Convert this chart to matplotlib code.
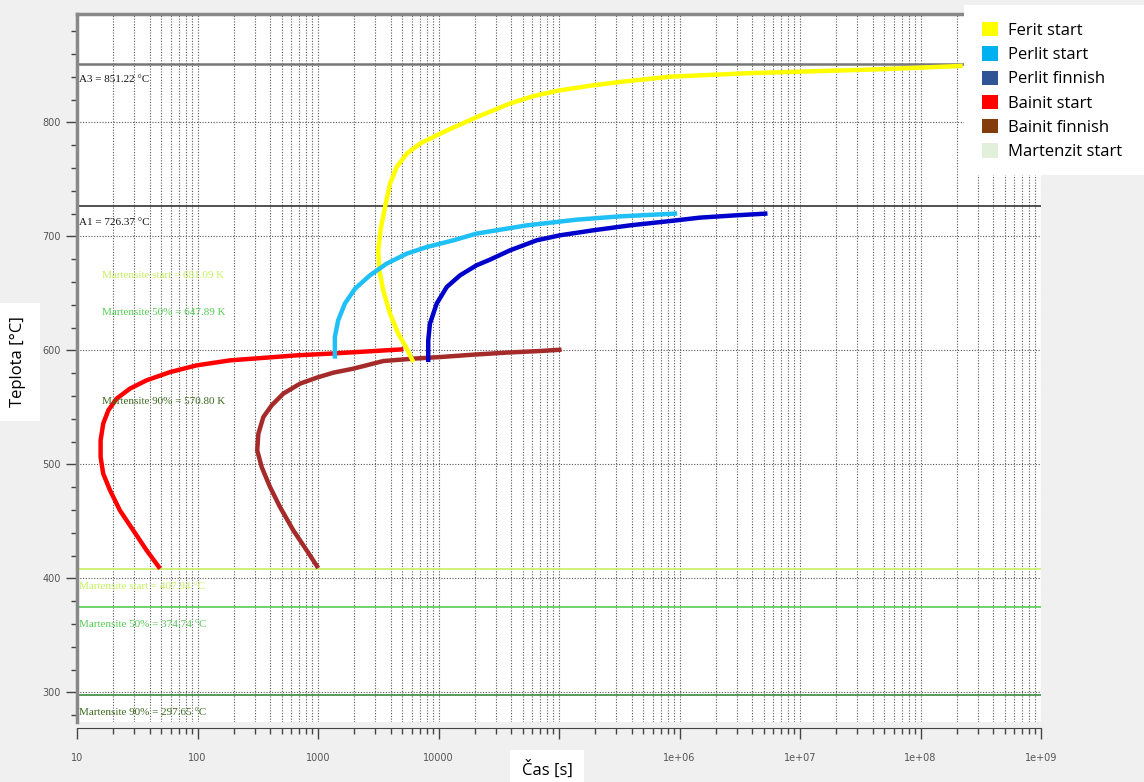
import matplotlib.pyplot as plt
from matplotlib.patches import Patch, Rectangle
from matplotlib.ticker import LogLocator, FixedLocator, MultipleLocator, NullFormatter

# TTT diagram curves: time [s], temperature [°C]
ferit_start_t = [6180, 5370, 4630, 3960, 3480, 3230, 3160, 3310, 3600, 3960, 4500,
                 5450, 7020, 9660, 12400, 15100, 20700, 28500, 39200, 61200, 102000,
                 193000, 321000, 832000, 3.55e6, 4.57e7, 2.24e8]
ferit_start_T = [589.7, 602.9, 614.6, 632.2, 652.6, 670.2, 687.7, 706.0, 725.7, 746.2, 760.8,
                 772.5, 781.3, 788.6, 794.0, 798.0, 804.5, 810.5, 816.5, 823.0, 828.1,
                 832.5, 835.4, 840, 843, 846.5, 849.5]

perlit_start_t = [1380, 1380, 1470, 1670, 2030, 2700, 3720, 5450, 7980, 13300,
                  20700, 54000, 140000, 321000, 955000]
perlit_start_T = [592.7, 611.7, 626.3, 641.0, 654.1, 665.8, 676.1, 684.8, 690.6, 696.5,
                  702.4, 709.6, 714.6, 717.5, 720]

perlit_finish_t = [8220, 8220, 8490, 9660, 11700, 15100, 20700, 26700, 39200, 65300,
                   102000, 193000, 388000, 834000, 1.48e6, 2.82e6, 5.37e6]
perlit_finish_T = [589.7, 608.8, 623.4, 641.0, 655.5, 665.8, 674.6, 679.5, 687.7, 696.5,
                   700.9, 705.3, 709.6, 713.4, 716.4, 718.3, 720]

bainit_start_t = [48.9, 37.8, 29.3, 22.7, 18.8, 16.5, 15.7, 15.7, 16.5, 18.2, 21.3,
                  27.5, 37.8, 59.2, 98.4, 186, 375, 665, 1260, 5110]
bainit_start_T = [408.5, 424.6, 442.1, 459.6, 477.2, 491.8, 506.4, 521.1, 535.7, 547.4, 557.6,
                  566.4, 573.7, 580.9, 586.8, 591.2, 593.6, 595.6, 597.1, 600.9]

bainit_finish_t = [1005, 805, 624, 484, 400, 341, 313, 320, 352, 413, 515, 710, 975,
                   1340, 1960, 3480, 6180, 10300, 19500, 36800, 69500, 105000]
bainit_finish_T = [409.0, 424.6, 442.1, 462.5, 480.1, 497.6, 512.3, 526.9, 541.5, 551.8,
                   562.0, 570.8, 576.0, 580.4, 583.9, 590.6, 592.7, 594.1, 596.2, 598.0,
                   599.4, 600.6]

# critical temperatures
A3 = 851.22
A1 = 726.37
Ms = 407.94
M50 = 374.74
M90 = 297.65
Ms_K = 681.09
M50_K = 647.89
M90_K = 570.80

legend_labels = ["Ferit start", "Perlit start", "Perlit finnish",
                 "Bainit start", "Bainit finnish", "Martenzit start"]
legend_colors = ["#ffff00", "#00b0f0", "#2f5597", "#ff0000", "#843c0c", "#e2efda"]

fig = plt.figure(figsize=(11.44, 7.82), dpi=100, facecolor="#f0f0f0")
ax = fig.add_axes([77 / 1144, 1 - 722 / 782, 964 / 1144, 708 / 782])
ax.set_facecolor("white")
ax.set_xscale("log")
ax.set_xlim(10, 1e9)
ax.set_ylim(274, 895)

# grid
ax.xaxis.set_minor_locator(LogLocator(base=10, subs=range(2, 10), numticks=200))
ax.xaxis.set_minor_formatter(NullFormatter())
ax.set_xticks([10 ** k for k in range(1, 10)])
ax.set_xticklabels(["10", "100", "1000", "10000", "100000",
                    "1e+06", "1e+07", "1e+08", "1e+09"])
ax.yaxis.set_major_locator(FixedLocator([300, 400, 500, 600, 700, 800]))
ax.yaxis.set_minor_locator(MultipleLocator(20))
ax.grid(which="both", axis="x", color="#555555", linestyle=(0, (1, 1.5)), linewidth=0.8)
ax.grid(which="major", axis="y", color="#555555", linestyle=(0, (1, 1.5)), linewidth=0.8)
ax.set_axisbelow(True)

ax.tick_params(axis="both", which="major", direction="out", length=8, width=1,
               color="#444444", labelsize=7, labelcolor="#555555")
ax.tick_params(axis="both", which="minor", direction="out", length=4, width=1,
               color="#444444")
ax.tick_params(axis="x", pad=10)
ax.spines["right"].set_visible(False)
ax.spines["left"].set_color("#888888")
ax.spines["left"].set_linewidth(2.5)
ax.spines["top"].set_color("#888888")
ax.spines["top"].set_linewidth(2.5)
ax.spines["bottom"].set_color("#444444")
ax.spines["bottom"].set_position(("outward", 4))

# horizontal reference lines
ax.axhline(A3, color="#777777", lw=1.8)
ax.axhline(A1, color="#333333", lw=1.2)
ax.axhline(Ms, color="#c6f060", lw=1.2)
ax.axhline(M50, color="#55cc55", lw=1.2)
ax.axhline(M90, color="#3b8a3b", lw=1.2)

serif = "Liberation Serif"
ax.text(10.4, A3 - 14, f"A3 = {A3:.2f} °C", fontsize=8, family=serif, va="center", color="#111111")
ax.text(10.4, A1 - 14, f"A1 = {A1:.2f} °C", fontsize=8, family=serif, va="center", color="#111111")
ax.text(16, 665.8, f"Martensite start = {Ms_K:.2f} K", fontsize=8, family=serif, va="center", color="#c6f060")
ax.text(16, 633.3, f"Martensite 50% = {M50_K:.2f} K", fontsize=8, family=serif, va="center", color="#55cc55")
ax.text(16, 555.3, f"Martensite 90% = {M90_K:.2f} K", fontsize=8, family=serif, va="center", color="#3b6b1e")
ax.text(10.4, Ms - 15, f"Martensite start = {Ms:.2f} °C", fontsize=8, family=serif, va="center", color="#c6f060")
ax.text(10.4, M50 - 15, f"Martensite 50% = {M50:.2f} °C", fontsize=8, family=serif, va="center", color="#55cc55")
ax.text(10.4, M90 - 15, f"Martensite 90% = {M90:.2f} °C", fontsize=8, family=serif, va="center", color="#3b6b1e")

# transformation curves
lw = 3.2
ax.plot(bainit_start_t, bainit_start_T, color="#ff0000", lw=lw, solid_capstyle="butt")
ax.plot(bainit_finish_t, bainit_finish_T, color="#a52a2a", lw=lw, solid_capstyle="butt")
ax.plot(ferit_start_t, ferit_start_T, color="#ffff00", lw=lw, solid_capstyle="butt")
ax.plot(perlit_start_t, perlit_start_T, color="#1ec0f5", lw=lw, solid_capstyle="butt")
ax.plot(perlit_finish_t, perlit_finish_T, color="#0000cc", lw=lw, solid_capstyle="butt")

# axis titles in white boxes
fig.text(18 / 1144, 1 - 362 / 782, "Teplota [°C]", rotation=90, ha="center", va="center",
         fontsize=12, family="Open Sans",
         bbox=dict(facecolor="white", edgecolor="none", pad=10))
fig.text(547 / 1144, 1 - 770 / 782, "Čas [s]", ha="center", va="center",
         fontsize=12, family="Open Sans",
         bbox=dict(facecolor="white", edgecolor="none", pad=8))

# legend panel in the upper right corner
fig.patches.append(Rectangle((964 / 1144, 1 - 175 / 782), 180 / 1144, 170 / 782,
                             transform=fig.transFigure, facecolor="white",
                             edgecolor="none", zorder=4))
handles = [Patch(facecolor=c, edgecolor="none") for c in legend_colors]
leg = fig.legend(handles, legend_labels, loc="upper left",
                 bbox_to_anchor=(982 / 1144, 1 - 22 / 782), frameon=False,
                 prop={"family": "Open Sans", "size": 12}, handlelength=0.95,
                 handleheight=0.95, labelspacing=0.44, borderpad=0, handletextpad=0.6,
                 borderaxespad=0)
leg.set_zorder(5)

plt.savefig("out.png", dpi=100, facecolor=fig.get_facecolor())
